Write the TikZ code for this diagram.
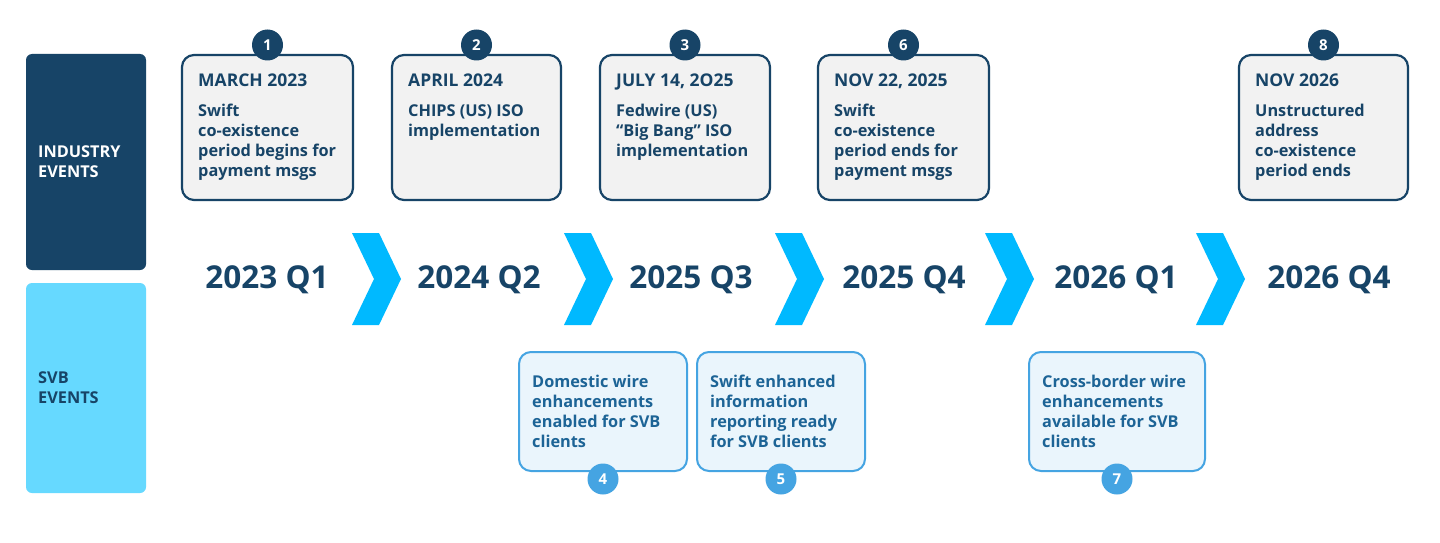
\documentclass[tikz,border=0pt]{standalone}
\usepackage{fontspec}
\setmainfont{Open Sans}
\begin{document}
\begin{tikzpicture}[x=1pt,y=-1pt,
  topbox/.style={draw=navy,line width=2.2pt,fill=boxgray,rounded corners=12pt},
  botbox/.style={draw=lblue,line width=2pt,fill=boxblue,rounded corners=12pt},
  tnum/.style={circle,fill=navy,text=white,font=\fontsize{15}{15}\selectfont\bfseries,minimum size=31pt,inner sep=0pt},
  bnum/.style={circle,fill=lblue,text=white,font=\fontsize{15}{15}\selectfont\bfseries,minimum size=31pt,inner sep=0pt},
  ttl/.style={anchor=north west,text=navy,font=\fontsize{17.5}{20}\selectfont\bfseries,align=left,inner sep=0pt},
  ttxt/.style={anchor=north west,text=navy,font=\fontsize{16.3}{20}\selectfont\bfseries,align=left,inner sep=0pt},
  btxt/.style={anchor=north west,text=bltxt,font=\fontsize{16.3}{20}\selectfont\bfseries,align=left,inner sep=0pt},
  yr/.style={text=navy,font=\fontsize{31.5}{31.5}\selectfont\bfseries},
  chev/.style={fill=chevc,draw=none}]
\definecolor{navy}{HTML}{174467}
\definecolor{boxgray}{HTML}{F2F2F2}
\definecolor{boxblue}{HTML}{EAF5FC}
\definecolor{lblue}{HTML}{45A4E2}
\definecolor{bltxt}{HTML}{1D6496}
\definecolor{chevc}{HTML}{00B9FF}
\definecolor{svbc}{HTML}{66D9FF}
\useasboundingbox (0,0) rectangle (1440,543);
\fill[white] (0,0) rectangle (1440,543);
% side bars
\fill[navy,rounded corners=6pt] (26,54) rectangle (146,270);
\node[anchor=west,text=white,font=\fontsize{16.3}{20}\selectfont\bfseries,align=left,inner sep=0pt] (ind) at (38,162) {INDUSTRY\\EVENTS};
\fill[svbc,rounded corners=6pt] (26,283) rectangle (146,493);
\node[anchor=west,text=navy,font=\fontsize{16.3}{20}\selectfont\bfseries,align=left,inner sep=0pt] (svb) at (38,388) {SVB\\EVENTS};
% top boxes
\foreach \l/\r/\n/\t/\b [count=\i] in {182/353/1/MARCH 2023/{Swift\\co-existence\\period begins for\\payment msgs},
  392/561/2/APRIL 2024/{CHIPS (US) ISO\\implementation},
  600/770/3/{JULY 14, 2O25}/{Fedwire (US)\\“Big Bang” ISO\\implementation},
  818/989/6/{NOV 22, 2025}/{Swift\\co-existence\\period ends for\\payment msgs},
  1239/1408/8/NOV 2026/{Unstructured\\address\\co-existence\\period ends}}{
  \draw[topbox] (\l,55) rectangle (\r,200);
  \node[tnum] (t\i) at ({(\l+\r)/2},45) {\n};
  \node[ttl] (tt\i) at (\l+16,74) {\t};
  \node[ttxt] (tb\i) at (\l+16,104) {\b};
}
% years
\foreach \x/\t [count=\i] in {267/2023 Q1,479/2024 Q2,691/2025 Q3,904/2025 Q4,1116/2026 Q1,1329/2026 Q4}{
  \node[yr] (y\i) at (\x,280) {\t};
}
\foreach \x in {352,564,775,985,1196}{
  \fill[chev] (\x,233) -- (\x+27,233) -- (\x+49,279) -- (\x+27,325) -- (\x,325) -- (\x+22,279) -- cycle;
}
% bottom boxes
\foreach \l/\r/\n/\b [count=\i] in {519/687/4/{Domestic wire\\enhancements\\enabled for SVB\\clients},
  697/865/5/{Swift enhanced\\information\\reporting ready\\for SVB clients},
  1029/1205/7/{Cross-border wire\\enhancements\\available for SVB\\clients}}{
  \draw[botbox] (\l,352) rectangle (\r,471);
  \node[bnum] (b\i) at ({(\l+\r)/2},479) {\n};
  \node[btxt] (bb\i) at (\l+13,375) {\b};
}
\end{tikzpicture}
\end{document}
